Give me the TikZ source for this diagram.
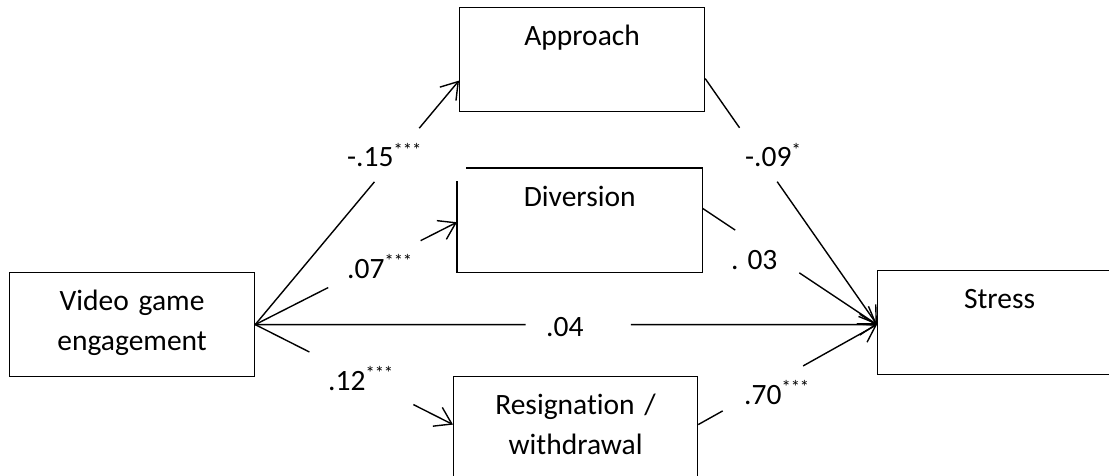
\documentclass[tikz,border=0pt]{standalone}
\usepackage{fontspec}
\setmainfont{Carlito}[Ligatures={NoCommon}]
\usetikzlibrary{arrows.meta,calc}
\newcommand{\sig}[1]{\raisebox{10.5pt}{\fontsize{18.5pt}{18.5pt}\selectfont #1}}
\begin{document}
\begin{tikzpicture}[x=1pt,y=-1pt,
  txt/.style={font=\fontsize{29.5pt}{40pt}\selectfont},
  boxshape/.style={txt, anchor=north west, inner xsep=0pt, inner ysep=0pt,
    text width=#1, align=center, text height=38pt, text depth=66pt},
  box/.style={boxshape=#1, draw, line width=1.2pt},
  conn/.style={line width=1.4pt},
  arr/.style={-{Straight Barb[length=16pt,width=21pt,line width=1.4pt]}},
  lbl/.style={txt, anchor=base west, inner sep=0pt}]
\useasboundingbox (0,0) rectangle (1109,476);
\clip (0,0) rectangle (1109,476);

% boxes
\node[box=245pt] (ap) at (459,7) {Approach};
\node[boxshape=245pt] (dv) at (457,168) {Diversion};
\draw[line width=1.2pt] ([xshift=9pt]dv.north west) -- (dv.north east) -- (dv.south east)
  -- (dv.south west) -- ([yshift=-13pt]dv.north west);
\node[box=245pt] (vg) at (9,272) {Video game\\engagement};
\node[box=244pt] (st) at (877,270) {Stress};
\node[box=244pt] (rs) at (453,376) {Resignation /\\withdrawal};

% connector end points
\coordinate (apIn) at ([yshift=-21pt]ap.west);
\coordinate (dvIn) at ([yshift=-2pt]dv.west);
\coordinate (rsIn) at ([yshift=4pt]rs.west);
\coordinate (apOut) at ([yshift=-19pt]ap.east);
\coordinate (dvOut) at ([yshift=12pt]dv.east);
\coordinate (rsOut) at ([yshift=4pt]rs.east);
\coordinate (stIn) at ([yshift=-2pt]st.west);

% video game -> approach
\draw[conn] (vg.east) -- ($(vg.east)!0.585!(apIn)$);
\draw[conn,arr] ($(vg.east)!0.805!(apIn)$) -- (apIn);
% video game -> diversion
\draw[conn] (vg.east) -- ($(vg.east)!0.362!(dvIn)$);
\draw[conn,arr] ($(vg.east)!0.82!(dvIn)$) -- (dvIn);
% video game -> stress
\draw[conn] (vg.east) -- ($(vg.east)!0.435!(stIn)$);
\draw[conn,arr] ($(vg.east)!0.604!(stIn)$) -- (stIn);
% video game -> resignation
\draw[conn] (vg.east) -- ($(vg.east)!0.274!(rsIn)$);
\draw[conn,arr] ($(vg.east)!0.8!(rsIn)$) -- (rsIn);
% approach -> stress
\draw[conn] (apOut) -- ($(apOut)!0.2!(stIn)$);
\draw[conn,arr] ($(apOut)!0.419!(stIn)$) -- (stIn);
% diversion -> stress
\draw[conn] (dvOut) -- ($(dvOut)!0.188!(stIn)$);
\draw[conn,arr] ($(dvOut)!0.555!(stIn)$) -- (stIn);
% resignation -> stress
\draw[conn] (rsOut) -- ($(rsOut)!0.137!(stIn)$);
\draw[conn,arr] ($(rsOut)!0.587!(stIn)$) -- (stIn);

% labels
\node[lbl] (l1) at (347,167) {-.15\sig{***}};
\node[lbl] (l2) at (347,278) {.07\sig{***}};
\node[lbl] (l3) at (546,336) {.04};
\node[lbl] (l4) at (328,390) {.12\sig{***}};
\node[lbl] (l5) at (745,167) {-.09\sig{*}};
\node[lbl] (l6) at (731,269) {. 03};
\node[lbl] (l7) at (744,404) {.70\sig{***}};
\end{tikzpicture}
\end{document}
